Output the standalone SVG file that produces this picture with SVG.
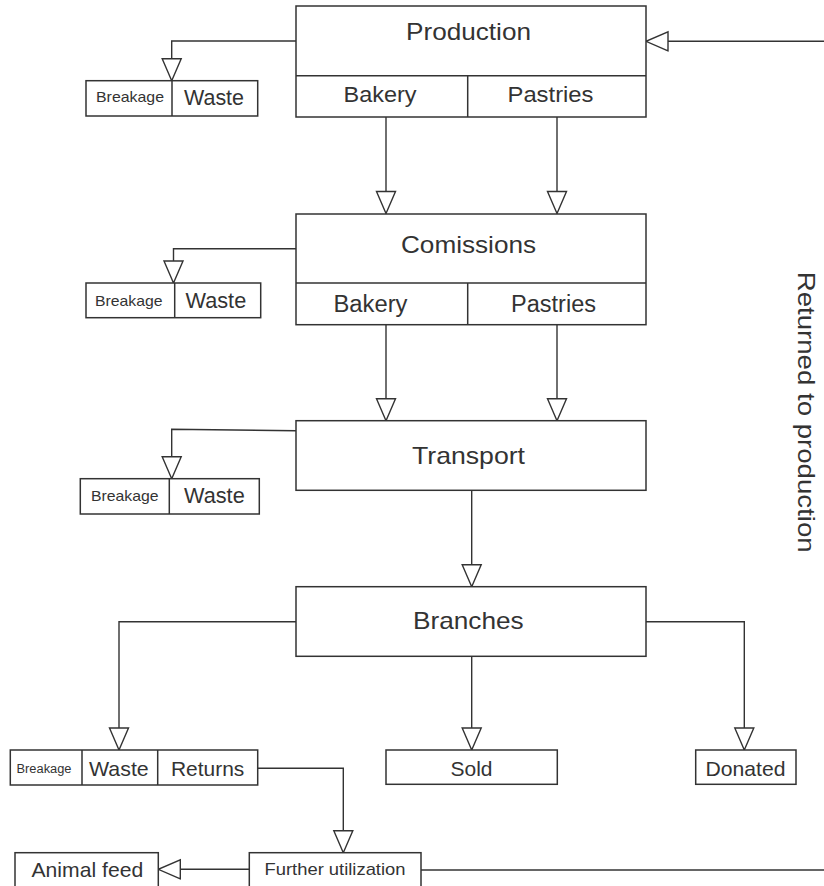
<svg xmlns="http://www.w3.org/2000/svg" width="824" height="886" viewBox="0 0 824 886">
<style>
.b{fill:#fff;stroke:#333;stroke-width:1.5}
.l{fill:none;stroke:#333;stroke-width:1.5}
.c{fill:none;stroke:#333;stroke-width:1.4;marker-end:url(#tri)}
.n{fill:none;stroke:#333;stroke-width:1.4}
text{font-family:"Liberation Sans",Arial,sans-serif;fill:#333}
</style>
<defs>
<marker id="tri" markerUnits="userSpaceOnUse" viewBox="-2 -2 26 23" refX="22" refY="9.5" markerWidth="26" markerHeight="23" orient="auto">
<path d="M0,0 L22,9.5 L0,19 Z" fill="#fff" stroke="#333" stroke-width="1.4"/>
</marker>
</defs>
<rect width="824" height="886" fill="#fff"/>
<g id="connectors">
<path class="c" d="M296,41 H171.7 V80.7"/>
<path class="c" d="M824,41.3 H646"/>
<path class="c" d="M386,117 V213.5"/>
<path class="c" d="M557,117 V213.5"/>
<path class="c" d="M296,248.7 H173.5 V283"/>
<path class="c" d="M386,325 V420.7"/>
<path class="c" d="M557,325 V420.7"/>
<path class="c" d="M296,430.7 L171.7,429.3 V478.7"/>
<path class="c" d="M471.7,490.3 V586.7"/>
<path class="c" d="M296,621.7 H119 V750"/>
<path class="c" d="M471.7,656.3 V750"/>
<path class="c" d="M646,621.7 H744.3 V750"/>
<path class="c" d="M257.7,768.3 H343.3 V852.7"/>
<path class="c" d="M249.3,869.3 H158.3"/>
<path class="n" d="M421,870 H824"/>
</g>
<g id="production">
<rect class="b" x="296" y="6" width="350" height="111"/>
<path class="l" d="M296,75.7 H646 M467.7,75.7 V117"/>
<text x="406" y="40" font-size="24" textLength="125" lengthAdjust="spacingAndGlyphs">Production</text>
<text x="343.5" y="102" font-size="22" textLength="73" lengthAdjust="spacingAndGlyphs">Bakery</text>
<text x="507.5" y="102" font-size="22" textLength="86" lengthAdjust="spacingAndGlyphs">Pastries</text>
</g>
<g id="loss1">
<rect class="b" x="86" y="80.7" width="171.7" height="35.3"/>
<path class="l" d="M172,80.7 V116"/>
<text x="96" y="101.7" font-size="15" textLength="68" lengthAdjust="spacingAndGlyphs">Breakage</text>
<text x="184" y="105" font-size="22" textLength="60" lengthAdjust="spacingAndGlyphs">Waste</text>
</g>
<g id="comissions">
<rect class="b" x="296" y="214" width="350" height="110.7"/>
<path class="l" d="M296,283 H646 M467.7,283 V324.7"/>
<text x="401" y="253" font-size="24" textLength="135" lengthAdjust="spacingAndGlyphs">Comissions</text>
<text x="333.5" y="311.5" font-size="23" textLength="74" lengthAdjust="spacingAndGlyphs">Bakery</text>
<text x="511" y="312" font-size="23" textLength="85" lengthAdjust="spacingAndGlyphs">Pastries</text>
</g>
<g id="loss2">
<rect class="b" x="86" y="283" width="174.7" height="34.7"/>
<path class="l" d="M174.7,283 V317.7"/>
<text x="95" y="306" font-size="15" textLength="67.6" lengthAdjust="spacingAndGlyphs">Breakage</text>
<text x="185.5" y="308.3" font-size="22" textLength="60.7" lengthAdjust="spacingAndGlyphs">Waste</text>
</g>
<g id="transport">
<rect class="b" x="296" y="420.7" width="350" height="69.6"/>
<text x="412" y="464.3" font-size="24" textLength="113" lengthAdjust="spacingAndGlyphs">Transport</text>
</g>
<g id="loss3">
<rect class="b" x="80.3" y="478.7" width="179" height="35.3"/>
<path class="l" d="M169.3,478.7 V514"/>
<text x="91" y="501" font-size="15" textLength="67.6" lengthAdjust="spacingAndGlyphs">Breakage</text>
<text x="184" y="503.3" font-size="22" textLength="60.7" lengthAdjust="spacingAndGlyphs">Waste</text>
</g>
<g id="branches">
<rect class="b" x="296" y="586.7" width="350" height="69.6"/>
<text x="413" y="629.3" font-size="24" textLength="110.7" lengthAdjust="spacingAndGlyphs">Branches</text>
</g>
<g id="loss4">
<rect class="b" x="10.3" y="750" width="247.4" height="35"/>
<path class="l" d="M82,750 V785 M157.7,750 V785"/>
<text x="16.5" y="773.3" font-size="12" textLength="55" lengthAdjust="spacingAndGlyphs">Breakage</text>
<text x="89" y="775.7" font-size="21" textLength="59.7" lengthAdjust="spacingAndGlyphs">Waste</text>
<text x="171" y="775.7" font-size="21" textLength="73.3" lengthAdjust="spacingAndGlyphs">Returns</text>
</g>
<g id="sold">
<rect class="b" x="386" y="750" width="171.3" height="34.3"/>
<text x="450.5" y="775.7" font-size="21" textLength="42" lengthAdjust="spacingAndGlyphs">Sold</text>
</g>
<g id="donated">
<rect class="b" x="695.7" y="750" width="100.3" height="34.3"/>
<text x="705.5" y="775.7" font-size="21" textLength="80" lengthAdjust="spacingAndGlyphs">Donated</text>
</g>
<g id="further">
<rect class="b" x="249.3" y="852.7" width="171.7" height="50"/>
<text x="264.5" y="875" font-size="17" textLength="141" lengthAdjust="spacingAndGlyphs">Further utilization</text>
</g>
<g id="animalfeed">
<rect class="b" x="15" y="852.7" width="143.3" height="50"/>
<text x="31.5" y="876.7" font-size="21" textLength="111.7" lengthAdjust="spacingAndGlyphs">Animal feed</text>
</g>
<g id="returned">
<text transform="translate(798,271.7) rotate(90)" x="0" y="0" font-size="24" textLength="281" lengthAdjust="spacingAndGlyphs">Returned to production</text>
</g>
</svg>
